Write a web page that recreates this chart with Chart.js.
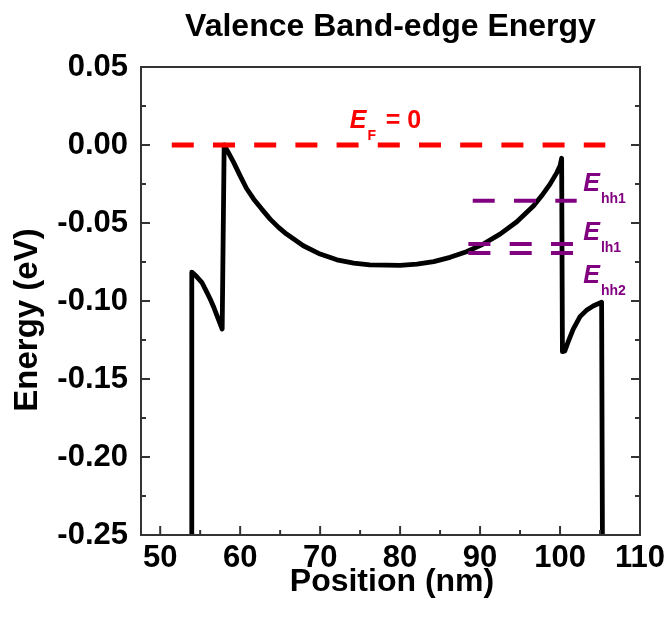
<!DOCTYPE html>
<html><head><meta charset="utf-8">
<script src="https://cdn.jsdelivr.net/npm/chart.js@4"></script>
<style>html,body{margin:0;padding:0;background:#fff}#wrap{width:667px;height:624px}</style>
</head><body><div id="wrap"><canvas id="c" width="667" height="624"></canvas></div>
<script>
// ---- data ----
const positionNm = [53.9, 53.95, 54.5, 55.2, 55.7, 56.25, 56.7, 57.1, 57.45, 57.75, 58.0,
  58.3, 58.6, 59.2, 60.0, 60.8, 61.7, 62.7, 63.75, 64.8, 65.8, 67.9, 70.0, 72.1, 74.2, 76.2, 78.3, 80.0,
  82.1, 84.2, 86.25, 88.3, 90.4, 92.5, 94.6, 96.7, 97.7, 98.75, 99.6, 100.0, 100.2,
  100.3, 100.6, 101.0, 101.65, 102.5, 103.3, 104.2, 105.2, 105.3];
const energyEv = [-0.25, -0.0815, -0.084, -0.088, -0.093, -0.0987, -0.104, -0.1094, -0.114, -0.118, 0.0,
  -0.0028, -0.0055, -0.0113, -0.0198, -0.0279, -0.0347, -0.0411, -0.0475, -0.0528, -0.0571, -0.0646, -0.0699, -0.0736, -0.0757, -0.0768, -0.0770, -0.0771,
  -0.0764, -0.0748, -0.0720, -0.0684, -0.0635, -0.0571, -0.0492, -0.0390, -0.0326, -0.0251, -0.0177, -0.0134, -0.0085,
  -0.1325, -0.1320, -0.1264, -0.118, -0.110, -0.106, -0.103, -0.1008, -0.25];
const fermiRange = [51.45, 105.66];
const fermiLevel = 0;
const subbandNames = ['hh1', 'lh1', 'hh2'];
const subbandEnergies = [-0.0358, -0.0635, -0.0693];
const subbandStart = [89.08, 88.54, 88.54];
const subbandEnd = [102.08, 101.66, 101.66];
const xTickValues = [50, 60, 70, 80, 90, 100, 110];
const yTickValues = [0.05, 0.00, -0.05, -0.10, -0.15, -0.20, -0.25];
const titleText = 'Valence Band-edge Energy';
const xTitle = 'Position (nm)';
const yTitle = 'Energy (eV)';

// ---- build datasets ----
const FONT = "'Liberation Sans', Arial, sans-serif";
const RED = '#ff0000', PURPLE = '#800080';
const bandPts = positionNm.map((x, i) => ({x, y: energyEv[i]}));
const datasets = [];
datasets.push({data: [{x: fermiRange[0], y: fermiLevel}, {x: fermiRange[1], y: fermiLevel}],
  borderColor: RED, borderWidth: 5, borderDash: [22, 19.2], pointRadius: 0, borderCapStyle: 'butt'});
subbandEnergies.forEach((e, i) => {
  datasets.push({data: [{x: subbandStart[i], y: e}, {x: subbandEnd[i], y: e}],
    borderColor: PURPLE, borderWidth: 4, borderDash: [22, 19.3], pointRadius: 0, borderCapStyle: 'butt'});
});
datasets.push({data: bandPts, borderColor: '#000', borderWidth: 4.8, pointRadius: 0,
  borderJoinStyle: 'round', tension: 0});

const decor = {
  id: 'decor',
  afterDatasetsDraw(chart) {
    const {ctx, chartArea: a, scales: {x, y}} = chart;
    ctx.save();
    ctx.strokeStyle = '#333';
    ctx.lineWidth = 2;
    ctx.strokeRect(a.left, a.top, a.right - a.left, a.bottom - a.top);
    // x ticks (bottom, inward)
    for (let v = 50; v <= 110; v += 5) {
      const px = x.getPixelForValue(v);
      const len = (v % 10 === 0) ? 9 : 5;
      ctx.beginPath(); ctx.moveTo(px, a.bottom); ctx.lineTo(px, a.bottom - len); ctx.stroke();
    }
    // y ticks left and right
    for (let k = 0; k <= 12; k++) {
      const v = 0.05 - k * 0.025;
      const py = y.getPixelForValue(v);
      const len = (k % 2 === 0) ? 9 : 5;
      ctx.beginPath(); ctx.moveTo(a.left, py); ctx.lineTo(a.left + len, py); ctx.stroke();
      ctx.beginPath(); ctx.moveTo(a.right, py); ctx.lineTo(a.right - len, py); ctx.stroke();
    }
    // labels on levels
    const lab = (sub, dx, dy, color) => {
      const px = x.getPixelForValue(dx), py = y.getPixelForValue(dy);
      ctx.fillStyle = color;
      ctx.textBaseline = 'alphabetic'; ctx.textAlign = 'left';
      ctx.font = 'italic bold 25px ' + FONT;
      ctx.fillText('E', px, py);
      const w = ctx.measureText('E').width;
      ctx.font = 'bold 14px ' + FONT;
      ctx.fillText(sub, px + w + 1, py + 12);
    };
    lab('F', 73.7, 0.0111, RED);
    ctx.font = 'bold 25px ' + FONT;
    ctx.fillStyle = RED;
    ctx.fillText('= 0', x.getPixelForValue(73.7) + 36, y.getPixelForValue(0.0111));
    const labY = [-0.0294, -0.0607, -0.0883];
    subbandNames.forEach((n, i) => lab(n, 102.9, labY[i], PURPLE));
    // titles
    ctx.fillStyle = '#000';
    ctx.textAlign = 'center';
    ctx.font = 'bold 32px ' + FONT;
    ctx.fillText(titleText, (a.left + a.right) / 2, 36);
    ctx.fillText(xTitle, 392, 591);
    ctx.translate(37, 320);
    ctx.rotate(-Math.PI / 2);
    ctx.font = 'bold 33px ' + FONT;
    ctx.fillText(yTitle, 0, 0);
    ctx.restore();
  }
};

new Chart(document.getElementById('c'), {
  type: 'line',
  data: {datasets},
  plugins: [decor],
  options: {
    responsive: false, animation: false, devicePixelRatio: 1,
    layout: {padding: {top: 67, right: 27, left: 0, bottom: 0}},
    plugins: {legend: {display: false}, tooltip: {enabled: false}, title: {display: false}},
    scales: {
      x: {type: 'linear', min: 47.6, max: 110,
        grid: {display: false, drawTicks: false}, border: {display: false},
        afterBuildTicks: s => { s.ticks = xTickValues.map(v => ({value: v})); },
        afterFit: s => { s.height = 89; s.paddingLeft = 0; s.paddingRight = 0; },
        ticks: {color: '#000', padding: 5, font: {family: FONT, size: 31, weight: 'bold'},
          callback: v => String(v), maxRotation: 0, autoSkip: false}},
      y: {type: 'linear', min: -0.25, max: 0.05,
        grid: {display: false, drawTicks: false}, border: {display: false},
        afterBuildTicks: s => { s.ticks = yTickValues.map(v => ({value: v})); },
        afterFit: s => { s.width = 141; s.paddingTop = 0; s.paddingBottom = 0; },
        ticks: {color: '#000', padding: 13, font: {family: FONT, size: 31, weight: 'bold'},
          callback: v => Number(v).toFixed(2), autoSkip: false}}
    }
  }
});
</script></body></html>
